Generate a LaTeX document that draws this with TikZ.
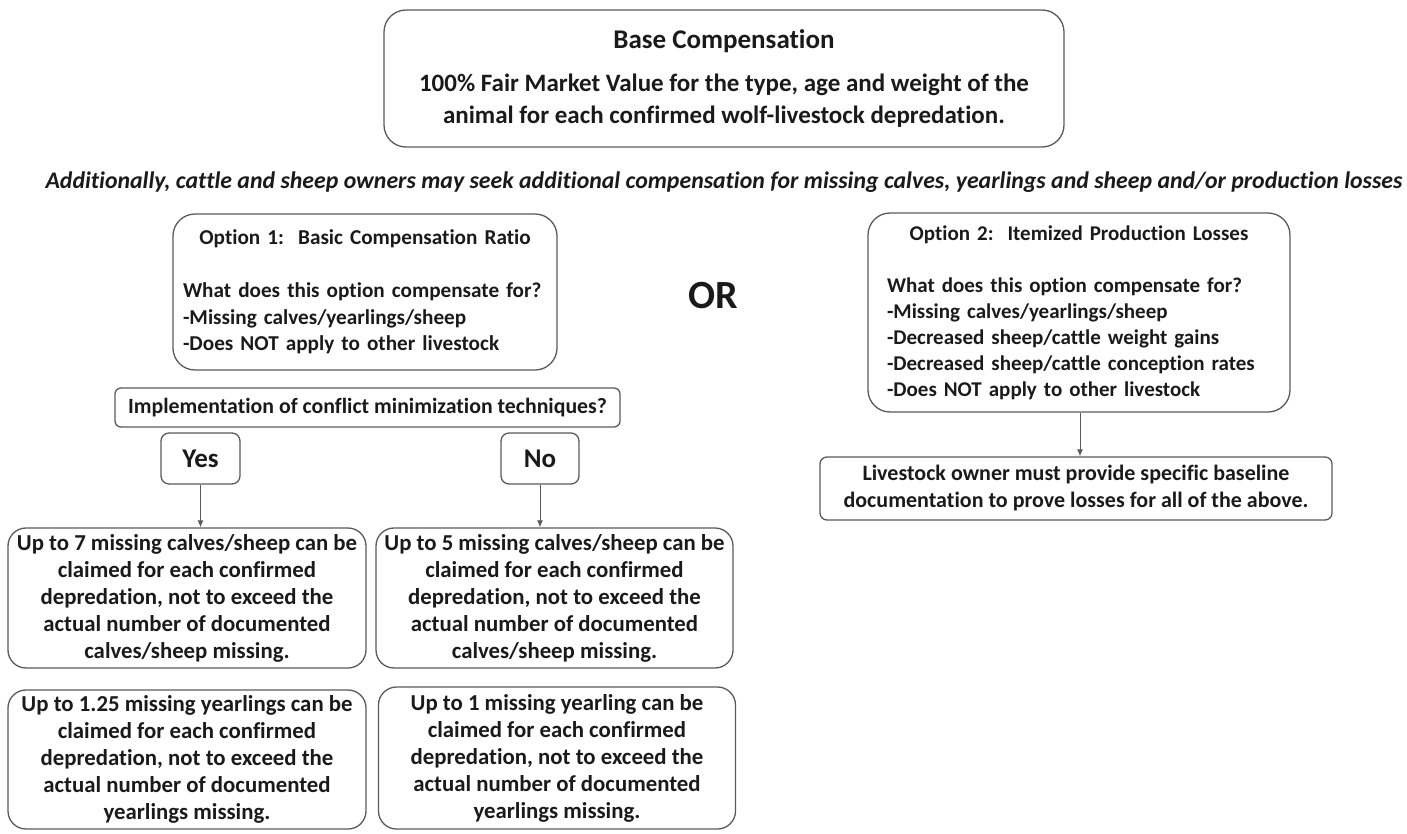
\documentclass[tikz,border=0pt]{standalone}
\usepackage{fontspec}
\setmainfont{Carlito}[Ligatures=NoCommon]
\usetikzlibrary{arrows.meta}
\definecolor{edge}{HTML}{5A5A5A}
\definecolor{ink}{HTML}{1A1A1A}
\begin{document}
\begin{tikzpicture}[x=1pt,y=-1pt,
  basebox/.style={draw=edge, line width=1.3pt, inner sep=0pt, text=ink,
    font=\bfseries\fontsize{22.8}{27}\selectfont},
  bigr/.style={basebox, rounded corners=22pt},
  midr/.style={basebox, rounded corners=18pt},
  smallr/.style={basebox, rounded corners=7pt},
  arr/.style={draw=edge, line width=1pt, -{Latex[length=7pt,width=6pt]}}
]
\useasboundingbox (0,0) rectangle (1407,833);

% Base compensation
\node[bigr, align=center, minimum width=680pt, minimum height=137pt,
  font=\bfseries\fontsize{25}{32}\selectfont] (base) at (724,78.5)
  {{\fontsize{27}{32}\selectfont Base Compensation}\\[11pt]100\% Fair Market Value for the type, age and weight of the\\animal for each confirmed wolf-livestock depredation.};

% italic line
\node[inner sep=0pt, text=ink, font=\bfseries\itshape\fontsize{23.8}{28}\selectfont] (add) at (724,182)
  {Additionally, cattle and sheep owners may seek additional compensation for missing calves, yearlings and sheep and/or production losses};

% Option 1
\node[bigr, align=left, text width=364pt, minimum width=384pt, minimum height=156pt,
  font=\bfseries\fontsize{21.2}{26.5}\selectfont] (opt1) at (365,292)
  {\makebox[\hsize][c]{Option 1:\ \ Basic Compensation Ratio}\\[26.5pt]
   What does this option compensate for?\\
   -Missing calves/yearlings/sheep\\
   -Does NOT apply to other livestock};

% OR
\node[inner sep=0pt, text=ink, font=\bfseries\fontsize{40}{44}\selectfont] (or) at (713,296) {OR};

% Option 2
\node[bigr, align=left, text width=384pt, minimum width=422pt, minimum height=199pt,
  font=\bfseries\fontsize{21}{26}\selectfont] (opt2) at (1079,312.5)
  {\makebox[\hsize][c]{Option 2:\ \ Itemized Production Losses}\\[26pt]
   What does this option compensate for?\\
   -Missing calves/yearlings/sheep\\
   -Decreased sheep/cattle weight gains\\
   -Decreased sheep/cattle conception rates\\
   -Does NOT apply to other livestock};

% Livestock owner
\node[smallr, align=center, minimum width=512pt, minimum height=63pt,
  font=\bfseries\fontsize{22}{27}\selectfont] (doc) at (1076,488.5)
  {Livestock owner must provide specific baseline\\documentation to prove losses for all of the above.};
\coordinate (o2x) at (1080,0);

% Implementation
\node[smallr, rounded corners=6pt, align=center, minimum width=505pt, minimum height=39pt,
  font=\bfseries\fontsize{21.8}{26}\selectfont] (impl) at (367.5,407.5)
  {Implementation of conflict minimization techniques?};

% Yes / No
\node[smallr, rounded corners=8pt, minimum width=79pt, minimum height=51pt,
  font=\bfseries\fontsize{27}{30}\selectfont] (yes) at (200.5,458.5) {Yes};
\node[smallr, rounded corners=8pt, minimum width=78pt, minimum height=51pt,
  font=\bfseries\fontsize{27}{30}\selectfont] (no) at (540,458.5) {No};

% Result boxes
\node[midr, align=center, minimum width=358pt, minimum height=140pt] (y7) at (187,598)
  {Up to 7 missing calves/sheep can be\\claimed for each confirmed\\depredation, not to exceed the\\actual number of documented\\calves/sheep missing.};
\node[midr, align=center, minimum width=357pt, minimum height=140pt] (n5) at (554.5,598)
  {Up to 5 missing calves/sheep can be\\claimed for each confirmed\\depredation, not to exceed the\\actual number of documented\\calves/sheep missing.};
\node[midr, align=center, minimum width=358pt, minimum height=139pt] (y125) at (187,759.5)
  {Up to 1.25 missing yearlings can be\\claimed for each confirmed\\depredation, not to exceed the\\actual number of documented\\yearlings missing.};
\node[midr, align=center, minimum width=357pt, minimum height=142pt] (n1) at (557,758)
  {Up to 1 missing yearling can be\\claimed for each confirmed\\depredation, not to exceed the\\actual number of documented\\yearlings missing.};

\draw[arr] (yes.south) -- (yes.south |- y7.north);
\draw[arr] (no.south) -- (no.south |- n5.north);
\draw[arr] (opt2.south -| o2x) -- (doc.north -| o2x);
\end{tikzpicture}
\end{document}
